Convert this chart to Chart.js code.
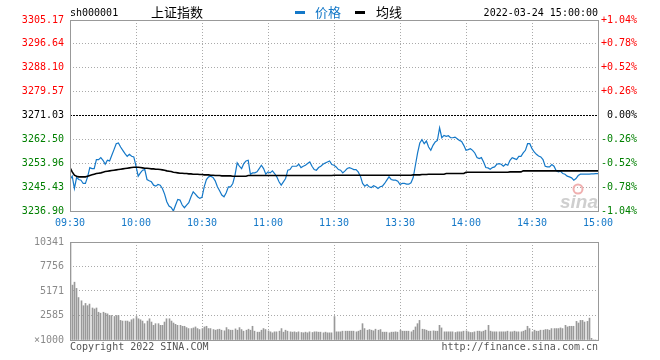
<!DOCTYPE html>
<html>
<head>
<meta charset="utf-8">
<script src="https://cdn.jsdelivr.net/npm/chart.js@4.4.0/dist/chart.umd.min.js"></script>
<style>
  body { margin: 0; background: #fff; }
  #wrap { position: relative; width: 660px; height: 360px; }
  #priceChart { position: absolute; left: 0; top: 0; }
  #volumeChart { position: absolute; left: 0; top: 230px; }
</style>
</head>
<body>
<div id="wrap">
  <canvas id="priceChart" width="660" height="230"></canvas>
  <canvas id="volumeChart" width="660" height="130"></canvas>
</div>
<script>
// minute-by-minute session, 09:30 -> 15:00 (241 points)
const timeLabels = ["09:30", "10:00", "10:30", "11:00", "11:30", "13:30", "14:00", "14:30", "15:00"];
const timeTickMinutes = [0, 30, 60, 90, 120, 150, 180, 210, 240];

const prevClose = 3271.03;
const priceTicks = [3236.90, 3245.43, 3253.96, 3262.50, 3271.03, 3279.57, 3288.10, 3296.64, 3305.17];
const pctLabels = ["-1.04%", "-0.78%", "-0.52%", "-0.26%", "0.00%", "+0.26%", "+0.52%", "+0.78%", "+1.04%"];

const volTicks = [0, 2585, 5171, 7756, 10341];
const volLabels = ["\u00d71000", "2585", "5171", "7756", "10341"];

const price = [
  3248.16, 3249.34, 3244.96, 3248.87, 3248.16, 3247.92, 3246.74, 3246.74, 3249.11, 3252.42,
  3252.07, 3252.07, 3255.27, 3255.27, 3255.98, 3255.03, 3253.61, 3255.03, 3254.80, 3256.81,
  3258.83, 3260.96, 3261.20, 3259.77, 3258.59, 3257.40, 3256.45, 3257.17, 3256.45, 3256.22,
  3252.90, 3249.34, 3250.53, 3251.48, 3251.71, 3248.16, 3247.68, 3247.33, 3246.14, 3245.79,
  3246.38, 3246.14, 3244.96, 3242.94, 3240.22, 3238.68, 3238.20, 3236.90, 3239.03, 3241.05,
  3240.81, 3239.03, 3238.08, 3239.03, 3239.86, 3242.00, 3243.77, 3242.94, 3242.00, 3241.40,
  3241.76, 3245.55, 3248.16, 3249.11, 3249.34, 3248.87, 3247.68, 3245.55, 3244.13, 3242.59,
  3242.00, 3243.42, 3245.55, 3245.55, 3246.74, 3249.70, 3254.08, 3252.90, 3252.07, 3253.85,
  3254.80, 3255.03, 3250.05, 3250.53, 3250.53, 3250.88, 3252.07, 3253.25, 3252.07, 3250.05,
  3250.88, 3250.53, 3251.24, 3250.29, 3249.11, 3247.33, 3246.14, 3247.33, 3248.51, 3251.48,
  3251.71, 3252.90, 3252.90, 3252.90, 3253.61, 3252.42, 3252.90, 3253.25, 3253.85, 3254.44,
  3252.90, 3251.71, 3251.48, 3252.42, 3252.90, 3253.61, 3254.08, 3254.44, 3254.80, 3253.49,
  3253.25, 3252.66, 3251.71, 3251.48, 3250.53, 3251.24, 3252.07, 3252.42, 3252.07, 3251.71,
  3251.71, 3250.88, 3249.34, 3246.74, 3245.79, 3246.38, 3245.55, 3245.31, 3245.91, 3245.55,
  3244.96, 3245.55, 3245.79, 3246.74, 3247.92, 3249.11, 3248.16, 3247.92, 3247.92, 3247.57,
  3246.38, 3246.74, 3246.74, 3246.50, 3246.50, 3246.97, 3248.87, 3253.25, 3257.64, 3261.20,
  3262.38, 3260.96, 3261.91, 3259.77, 3258.59, 3260.37, 3261.55, 3262.14, 3266.65, 3263.09,
  3263.92, 3263.57, 3263.80, 3263.09, 3263.09, 3263.33, 3262.74, 3262.14, 3261.79, 3260.37,
  3258.59, 3258.83, 3259.18, 3258.59, 3257.64, 3255.98, 3255.62, 3255.98, 3254.44, 3252.42,
  3252.31, 3251.83, 3252.42, 3252.66, 3253.61, 3253.85, 3253.61, 3252.90, 3253.61, 3253.25,
  3255.03, 3255.98, 3255.62, 3255.27, 3256.45, 3256.45, 3257.64, 3258.59, 3260.96, 3260.96,
  3259.18, 3258.00, 3257.17, 3256.57, 3256.22, 3255.27, 3252.90, 3252.66, 3252.66, 3253.49,
  3252.90, 3251.24, 3250.88, 3251.12, 3250.29, 3250.05, 3249.34, 3249.11, 3248.75, 3247.92,
  3248.51, 3249.58, 3250.05, 3250.05, 3250.05, 3250.05, 3250.05, 3250.17, 3250.17, 3250.29,
  3250.29
];

const avgPrice = [
  3252.42, 3250.88, 3249.70, 3249.34, 3249.11, 3249.11, 3249.11, 3249.11, 3249.34, 3249.58,
  3249.82, 3250.05, 3250.29, 3250.41, 3250.53, 3250.77, 3251.00, 3251.12, 3251.24, 3251.36,
  3251.48, 3251.60, 3251.71, 3251.83, 3251.95, 3252.07, 3252.19, 3252.31, 3252.42, 3252.54,
  3252.54, 3252.54, 3252.42, 3252.31, 3252.19, 3252.19, 3252.07, 3251.95, 3251.95, 3251.83,
  3251.83, 3251.71, 3251.60, 3251.48, 3251.24, 3251.12, 3251.00, 3250.77, 3250.65, 3250.53,
  3250.41, 3250.41, 3250.29, 3250.29, 3250.17, 3250.17, 3250.05, 3250.05, 3250.05, 3249.94,
  3249.94, 3249.82, 3249.82, 3249.82, 3249.70, 3249.70, 3249.58, 3249.58, 3249.58, 3249.46,
  3249.46, 3249.46, 3249.46, 3249.46, 3249.34, 3249.34, 3249.34, 3249.34, 3249.34, 3249.34,
  3249.34, 3249.58, 3249.58, 3249.58, 3249.58, 3249.58, 3249.58, 3249.58, 3249.58, 3249.58,
  3249.58, 3249.58, 3249.58, 3249.58, 3249.58, 3249.58, 3249.58, 3249.58, 3249.58, 3249.58,
  3249.58, 3249.58, 3249.58, 3249.58, 3249.58, 3249.58, 3249.58, 3249.58, 3249.58, 3249.58,
  3249.58, 3249.58, 3249.58, 3249.58, 3249.58, 3249.58, 3249.58, 3249.58, 3249.58, 3249.58,
  3249.70, 3249.70, 3249.70, 3249.70, 3249.70, 3249.70, 3249.70, 3249.70, 3249.70, 3249.70,
  3249.70, 3249.70, 3249.70, 3249.70, 3249.70, 3249.70, 3249.70, 3249.70, 3249.70, 3249.70,
  3249.70, 3249.70, 3249.70, 3249.70, 3249.70, 3249.70, 3249.70, 3249.70, 3249.70, 3249.70,
  3249.70, 3249.70, 3249.70, 3249.70, 3249.70, 3249.70, 3249.82, 3249.82, 3249.82, 3249.82,
  3249.94, 3249.94, 3249.94, 3250.05, 3250.05, 3250.05, 3250.05, 3250.05, 3250.05, 3250.05,
  3250.05, 3250.29, 3250.29, 3250.29, 3250.29, 3250.29, 3250.29, 3250.29, 3250.29, 3250.29,
  3250.77, 3250.77, 3250.77, 3250.77, 3250.77, 3250.77, 3250.77, 3250.77, 3250.77, 3250.77,
  3250.77, 3250.77, 3250.77, 3250.77, 3250.77, 3250.77, 3250.77, 3250.77, 3250.77, 3250.77,
  3250.88, 3250.88, 3250.88, 3250.88, 3250.88, 3250.88, 3251.24, 3251.24, 3251.24, 3251.24,
  3251.24, 3251.24, 3251.24, 3251.24, 3251.24, 3251.24, 3251.24, 3251.24, 3251.24, 3251.24,
  3251.24, 3251.24, 3251.24, 3251.24, 3251.24, 3251.24, 3251.24, 3251.24, 3251.24, 3251.24,
  3251.24, 3251.24, 3251.24, 3251.24, 3251.24, 3251.24, 3251.24, 3251.24, 3251.24, 3251.24,
  3251.24
];

// volume in units of 1000 lots
const volume = [
  10341, 5791, 6101, 5446, 4481, 4136, 3619, 3861, 3619, 3792,
  3378, 3275, 3378, 2930, 2827, 2930, 2827, 2758, 2585, 2585,
  2482, 2585, 2585, 2068, 1999, 1999, 1999, 1896, 2137, 2241,
  2482, 2241, 2137, 1999, 1724, 1999, 2241, 1896, 1551, 1724,
  1724, 1551, 1551, 1896, 2241, 2241, 1999, 1792, 1655, 1551,
  1551, 1448, 1448, 1310, 1206, 1206, 1275, 1379, 1206, 1103,
  1206, 1379, 1448, 1206, 1206, 1103, 1034, 1103, 1138, 1034,
  965, 1310, 1103, 1034, 1034, 1172, 1034, 1310, 1103, 931,
  1034, 1138, 1034, 1448, 931, 827, 827, 1034, 1206, 1103,
  965, 862, 758, 862, 862, 931, 1206, 827, 1034, 931,
  862, 827, 862, 793, 862, 793, 758, 827, 758, 862,
  793, 862, 862, 827, 827, 758, 827, 758, 758, 758,
  2482, 862, 862, 862, 931, 931, 931, 931, 931, 931,
  862, 931, 1034, 1724, 1206, 1034, 1103, 1034, 965, 1138,
  1034, 1103, 827, 827, 827, 758, 827, 827, 862, 827,
  1034, 931, 931, 931, 931, 862, 1034, 1379, 1724, 2068,
  1138, 1103, 1034, 931, 931, 965, 931, 931, 1551, 1275,
  862, 862, 862, 862, 862, 793, 862, 862, 862, 931,
  965, 862, 793, 793, 862, 931, 931, 862, 931, 1034,
  1551, 931, 862, 862, 862, 862, 862, 862, 862, 931,
  862, 862, 931, 862, 862, 862, 931, 1034, 1448, 1206,
  862, 1034, 931, 931, 1034, 1034, 1103, 1103, 1034, 1206,
  1206, 1206, 1206, 1275, 1206, 1551, 1379, 1448, 1448, 1448,
  1965, 1792, 2068, 2068, 1896, 1965, 2309, 172, 0, 0,
  0
];

const BLUE = "#1478c8";
const RED = "#ff0000";
const GREEN = "#008000";
const GRID = "#aaaaaa";
const FRAME = "#999999";
const MONO = '"DejaVu Sans Mono", monospace';
const CJK = '"Noto Sans CJK SC", sans-serif';

Chart.defaults.font.family = MONO;
Chart.defaults.font.size = 10;
Chart.defaults.animation = false;

function tickColor(index) {
  if (index < 4) return GREEN;
  if (index > 4) return RED;
  return "#000";
}

function xyPoints(values) {
  return values.map((v, i) => ({ x: i, y: v }));
}

const frame = {
  id: "frame",
  afterDraw(chart) {
    const { ctx, chartArea: a } = chart;
    ctx.save();
    ctx.strokeStyle = FRAME;
    ctx.lineWidth = 1;
    ctx.strokeRect(a.left + 0.5, a.top + 0.5, a.right - a.left, a.bottom - a.top);
    ctx.restore();
  },
};

// keep the 1px volume bars on whole pixels so they stay crisp
const crispBars = {
  id: "crispBars",
  afterDatasetsUpdate(chart) {
    chart.getDatasetMeta(0).data.forEach((bar) => {
      bar.x = Math.floor(bar.x) + 0.5;
    });
  },
};

const header = {
  id: "header",
  beforeDatasetsDraw(chart) {
    // faint "sina" watermark in the lower right corner
    const ctx = chart.ctx;
    ctx.save();
    ctx.strokeStyle = "#f0b0b0";
    ctx.lineWidth = 2;
    ctx.beginPath();
    ctx.arc(578, 189, 4.5, 0, Math.PI * 2);
    ctx.stroke();
    ctx.fillStyle = "#cfcfcf";
    ctx.font = 'italic bold 19px "Liberation Sans", sans-serif';
    ctx.textAlign = "right";
    ctx.textBaseline = "alphabetic";
    ctx.fillText("sina", 598, 208);
    ctx.restore();
  },
  afterDraw(chart) {
    const ctx = chart.ctx;
    ctx.save();
    ctx.textBaseline = "middle";
    ctx.fillStyle = "#000";
    ctx.font = "10px " + MONO;
    ctx.fillText("sh000001", 70, 13);
    ctx.font = "13px " + CJK;
    ctx.fillText("上证指数", 151, 12);

    ctx.fillStyle = BLUE;
    ctx.fillRect(295, 11, 10, 3);
    ctx.fillText("价格", 315, 12);
    ctx.fillStyle = "#000";
    ctx.fillRect(355, 11, 10, 3);
    ctx.fillText("均线", 376, 12);

    ctx.font = "10px " + MONO;
    ctx.textAlign = "right";
    ctx.fillText("2022-03-24 15:00:00", 598, 13);
    ctx.restore();
  },
};

const footer = {
  id: "footer",
  afterDraw(chart) {
    const ctx = chart.ctx;
    ctx.save();
    ctx.font = "10px " + MONO;
    ctx.fillStyle = "#555";
    ctx.textBaseline = "middle";
    ctx.fillText("Copyright 2022 SINA.COM", 70, 117);
    ctx.textAlign = "right";
    ctx.fillText("http://finance.sina.com.cn", 598, 117);
    ctx.restore();
  },
};

const timeAxis = (height, showLabels) => ({
  type: "linear",
  min: 0,
  max: 240,
  offset: false,
  afterBuildTicks: (s) => { s.ticks = timeTickMinutes.map((m) => ({ value: m })); },
  ticks: {
    display: showLabels,
    callback: (v, i) => timeLabels[i],
    color: BLUE,
    padding: 6,
    maxRotation: 0,
    autoSkip: false,
  },
  grid: { color: GRID, drawTicks: false, offset: false },
  border: { display: false, dash: [1, 2] },
  afterFit: (s) => { s.height = height; },
});

new Chart(document.getElementById("priceChart"), {
  type: "line",
  data: {
    datasets: [
      {
        label: "均线",
        data: xyPoints(avgPrice),
        borderColor: "#000",
        borderWidth: 1.6,
        pointRadius: 0,
        yAxisID: "y",
      },
      {
        label: "价格",
        data: xyPoints(price),
        borderColor: BLUE,
        borderWidth: 1.2,
        pointRadius: 0,
        yAxisID: "y",
      },
    ],
  },
  options: {
    responsive: false,
    layout: { padding: { top: 20, right: 23, left: 0, bottom: 0 } },
    plugins: { legend: { display: false }, tooltip: { enabled: false } },
    scales: {
      x: timeAxis(19, true),
      y: {
        position: "left",
        min: priceTicks[0],
        max: priceTicks[priceTicks.length - 1],
        afterBuildTicks: (s) => { s.ticks = priceTicks.map((v) => ({ value: v })); },
        ticks: {
          callback: (v) => v.toFixed(2),
          color: (c) => tickColor(c.index),
          padding: 6,
        },
        grid: {
          color: (c) => (c.tick && c.tick.value === prevClose ? "#000" : GRID),
          drawTicks: false,
        },
        border: {
          display: false,
          dash: (c) => (c.tick && c.tick.value === prevClose ? [2, 1] : [1, 2]),
        },
        afterFit: (s) => { s.width = 70; },
      },
      y2: {
        position: "right",
        min: priceTicks[0],
        max: priceTicks[priceTicks.length - 1],
        afterBuildTicks: (s) => { s.ticks = priceTicks.map((v) => ({ value: v })); },
        ticks: {
          callback: (v, i) => pctLabels[i],
          color: (c) => tickColor(c.index),
          crossAlign: "far",
          padding: 0,
        },
        grid: { drawOnChartArea: false, drawTicks: false },
        border: { display: false },
        afterFit: (s) => { s.width = 39; },
      },
    },
  },
  plugins: [header, frame],
});

new Chart(document.getElementById("volumeChart"), {
  type: "bar",
  data: {
    datasets: [
      {
        label: "成交量",
        data: xyPoints(volume),
        backgroundColor: "#999999",
        borderWidth: 0,
        barThickness: 1,
      },
    ],
  },
  options: {
    responsive: false,
    layout: { padding: { top: 10, right: 62, left: 0, bottom: 0 } },
    plugins: { legend: { display: false }, tooltip: { enabled: false } },
    scales: {
      x: timeAxis(20, false),
      y: {
        min: 0,
        max: volTicks[volTicks.length - 1],
        afterBuildTicks: (s) => { s.ticks = volTicks.map((v) => ({ value: v })); },
        ticks: {
          callback: (v, i) => volLabels[i],
          color: "#8a8a8a",
          padding: 6,
        },
        grid: { color: GRID, drawTicks: false },
        border: { display: false, dash: [1, 2] },
        afterFit: (s) => { s.width = 70; },
      },
    },
  },
  plugins: [crispBars, frame, footer],
});
</script>
</body>
</html>
